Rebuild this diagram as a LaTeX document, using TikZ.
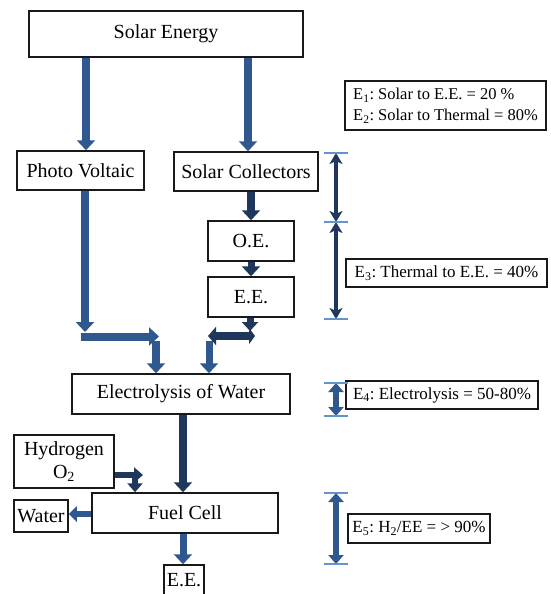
\documentclass[tikz,border=0pt]{standalone}
\usepackage{fontspec}
\setmainfont{Liberation Serif}
\usetikzlibrary{arrows.meta}
\definecolor{steel}{RGB}{47,88,142}
\definecolor{navy}{RGB}{30,55,90}
\definecolor{lightbar}{RGB}{100,148,205}
\begin{document}
\frenchspacing
\begin{tikzpicture}[x=1pt,y=-1pt,
  box/.style={draw=black!90, line width=1.5pt, fill=white, inner sep=0pt, font=\fontsize{20}{23}\selectfont},
  ebox/.style={draw=black!90, line width=1.5pt, fill=white, inner sep=0pt, font=\fontsize{17}{21}\selectfont},
  steelarrow/.style={draw=steel, line width=8pt, -{Triangle[width=18pt,length=10pt]}},
  navyarrow/.style={draw=navy, line width=8pt, -{Triangle[width=18pt,length=10pt]}},
  dimnavy/.style={draw=navy, line width=4pt, {Stealth[width=13pt,length=11pt,inset=3pt]}-{Stealth[width=13pt,length=11pt,inset=3pt]}},
  dimsteel/.style={draw=steel, line width=5.5pt, {Triangle[width=15pt,length=9pt]}-{Triangle[width=15pt,length=9pt]}},
  crossbar/.style={draw=lightbar, line width=2pt}]
\useasboundingbox (0,0) rectangle (550,594);
\fill[white] (0,0) rectangle (550,594);

% nodes
\node[box, minimum width=274pt, minimum height=46pt] (SolarE) at (166,34) {Solar Energy};
\node[ebox, align=left, minimum width=201pt, minimum height=49pt, font=\fontsize{16.5}{21}\selectfont] (E12) at (445.5,105.5)
  {E\textsubscript{1}: Solar to E.E. = 20 \%\\E\textsubscript{2}: Solar to Thermal = 80\%};
\node[box, minimum width=127pt, minimum height=39pt] (PV) at (80.5,170.5) {Photo Voltaic};
\node[box, minimum width=144pt, minimum height=39pt] (SC) at (246,171.5) {Solar Collectors};
\node[box, minimum width=86pt, minimum height=40pt] (OE) at (251,241) {O.E.};
\node[box, minimum width=86pt, minimum height=40pt] (EE1) at (251,297) {E.E.};
\node[ebox, minimum width=201pt, minimum height=28pt] (E3) at (446.5,273) {E\textsubscript{3}: Thermal to E.E. = 40\%};
\node[box, minimum width=218pt, minimum height=40pt] (Elec) at (181,394) {Electrolysis of Water};
\node[ebox, minimum width=192pt, minimum height=28pt] (E4) at (442,395) {E\textsubscript{4}: Electrolysis = 50-80\%};
\node[box, minimum width=100pt, minimum height=53pt, align=center] (Hyd) at (64,461.5) {Hydrogen\\O\textsubscript{2}};
\node[box, minimum width=54pt, minimum height=32pt] (Water) at (41,516) {Water};
\node[box, minimum width=186pt, minimum height=40pt] (FC) at (185,513) {Fuel Cell};
\node[ebox, minimum width=142pt, minimum height=29pt] (E5) at (419,528.5) {E\textsubscript{5}: H\textsubscript{2}/EE = > 90\%};
\node[box, minimum width=40pt, minimum height=30pt] (EE2) at (184,580) {E.E.};

% helper coordinates
\coordinate (xa) at (86,0);
\coordinate (xb) at (248,0);
\coordinate (xc) at (251,0);
\coordinate (pvA) at (85,332);
\coordinate (pvB1) at (81,336.5);
\coordinate (pvB2) at (159,336.5);
\coordinate (pvC) at (156,341);
\coordinate (eeA) at (250,331);
\coordinate (eeB1) at (208,336);
\coordinate (eeB2) at (255,336);
\coordinate (eeC) at (209,341);
\coordinate (xm) at (183,0);
\coordinate (hA) at (143,475);
\coordinate (hC) at (135,478);
\coordinate (yw) at (0,514);

% arrows
\draw[steelarrow] (SolarE.south -| xa) -- (PV.north -| xa);
\draw[steelarrow] (SolarE.south -| xb) -- (SC.north -| xb);
\draw[navyarrow] (SC.south -| xc) -- (OE.north -| xc);
\draw[navyarrow, line width=7pt] (OE.south -| xc) -- (EE1.north -| xc);

\draw[steelarrow] (PV.south -| pvA) -- (pvA);
\draw[steelarrow] (pvB1) -- (pvB2);
\draw[steelarrow] (pvC) -- (Elec.north -| pvC);

\draw[navyarrow, line width=7pt, -{Triangle[width=16pt,length=9pt]}] (EE1.south -| eeA) -- (eeA);
\draw[navyarrow, {Triangle[width=18pt,length=8pt]}-{Triangle[width=16pt,length=6pt]}] (eeB1) -- (eeB2);
\draw[steelarrow, line width=7pt] (eeC) -- (Elec.north -| eeC);

\draw[navyarrow] (Elec.south -| xm) -- (FC.north -| xm);
\draw[navyarrow, line width=6pt, -{Triangle[width=15pt,length=9pt]}] (Hyd.east |- hA) -- (hA);
\draw[navyarrow, line width=6pt, -{Triangle[width=15pt,length=9pt]}] (hC) -- (FC.north -| hC);
\draw[steelarrow, line width=6pt, -{Triangle[width=15pt,length=8pt]}] (FC.west |- yw) -- (Water.east |- yw);
\draw[steelarrow, line width=7pt] (FC.south -| xm) -- (EE2.north -| xm);

% dimension arrows
\coordinate (d1) at (336,153);
\coordinate (d2) at (336,222);
\coordinate (d3) at (336,319);
\coordinate (d4) at (336,383);
\coordinate (d5) at (336,416);
\coordinate (d6) at (336,493);
\coordinate (d7) at (336,564);
\draw[dimnavy] (d1) -- (d2);
\draw[dimnavy] (d2) -- (d3);
\draw[dimsteel] (d4) -- (d5);
\draw[dimsteel] (d6) -- (d7);
\foreach \c in {d1,d2,d3,d4,d5,d6,d7}
  \draw[crossbar] ([xshift=-12pt]\c) -- ([xshift=12pt]\c);
\end{tikzpicture}
\end{document}
